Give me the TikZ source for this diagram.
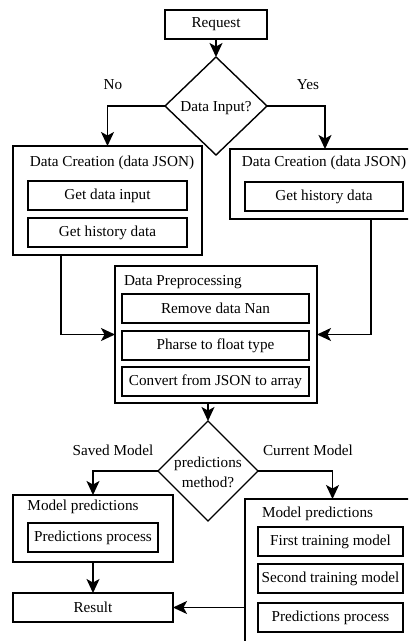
\documentclass[tikz,border=0pt]{standalone}
\usepackage{fontspec}
\setmainfont{Liberation Serif}
\usetikzlibrary{shapes.geometric,arrows.meta,calc}
\begin{document}
\begin{tikzpicture}[x=1pt,y=-1pt,
  font=\fontsize{15.2}{18}\selectfont,
  every node/.style={inner sep=0pt,outer sep=0pt},
  box/.style={draw,line width=1.4pt,rectangle},
  inner/.style={draw,line width=1.4pt,rectangle},
  decision/.style={draw,line width=1.4pt,diamond,aspect=1},
  lbl/.style={anchor=center},
  arr/.style={line width=1.4pt,-{Stealth[length=14pt,width=13pt,inset=3.5pt]}}]
\useasboundingbox (0,0) rectangle (408,641);
\clip (0,0) rectangle (408,641);

% start and first decision
\node[box,minimum width=102pt,minimum height=29pt] (req) at (216,24.5) {Request};
\node[decision,minimum width=102pt,minimum height=98pt] (d1) at (216,106) {};
\node[lbl] (d1t) at (216,108) {Data Input?};
\node[lbl] (no) at (113,85) {No};
\node[lbl] (yes) at (308,85) {Yes};

% data creation, left branch
\node[box,minimum width=189pt,minimum height=109pt] (cl) at (107.5,200.5) {};
\node[lbl] (clt) at (112,163) {Data Creation (data JSON)};
\node[inner,minimum width=159pt,minimum height=29pt] (cl1) at (107.5,195.5) {Get data input};
\node[inner,minimum width=159pt,minimum height=29pt] (cl2) at (107.5,232.5) {Get history data};

% data creation, right branch
\node[box,minimum width=190pt,minimum height=70pt] (cr) at (325,184) {};
\node[lbl] (crt) at (324,163) {Data Creation (data JSON)};
\node[inner,minimum width=158pt,minimum height=29pt] (cr1) at (324,196.5) {Get history data};

% preprocessing
\node[box,minimum width=202pt,minimum height=137pt] (pre) at (216,334.5) {};
\node[lbl,anchor=west] (pret) at (124,282) {Data Preprocessing};
\node[inner,minimum width=187pt,minimum height=29pt] (pre1) at (215.5,308.5) {Remove data Nan};
\node[inner,minimum width=187pt,minimum height=29pt] (pre2) at (215.5,345.5) {Pharse to float type};
\node[inner,minimum width=187pt,minimum height=29pt] (pre3) at (215.5,381.5) {Convert from JSON to array};

% second decision
\node[decision,minimum width=100pt,minimum height=100pt] (d2) at (208,471) {};
\node[lbl,align=center] (d2t) at (208,472) {predictions\\[2pt]method?};
\node[lbl] (sav) at (113,450) {Saved Model};
\node[lbl] (cur) at (308,450) {Current Model};

% saved model branch
\node[box,minimum width=160pt,minimum height=67pt] (ml) at (93,528.5) {};
\node[lbl] (mlt) at (83,507) {Model predictions};
\node[inner,minimum width=130pt,minimum height=29pt] (ml1) at (93,537.5) {Predictions process};
\node[box,minimum width=160pt,minimum height=29pt] (res) at (93,607.5) {Result};

% current model branch
\node[box,minimum width=175pt,minimum height=160pt] (mr) at (332.5,579) {};
\node[lbl,anchor=west] (mrt) at (262,514) {Model predictions};
\node[inner,minimum width=145pt,minimum height=29pt] (mr1) at (330.5,541.5) {First training model};
\node[inner,minimum width=145pt,minimum height=29pt] (mr2) at (330.5,578.5) {Second training model};
\node[inner,minimum width=145pt,minimum height=29pt] (mr3) at (330.5,617.5) {Predictions process};

% connectors
\draw[arr] (req.south) -- (d1.north);
\draw[arr] (d1.west) -| (cl.north);
\draw[arr] (d1.east) -| (cr.north);
\draw[arr] ([xshift=-46.5pt]cl.south) |- (pre.west);
\draw[arr] ([xshift=46pt]cr.south) |- (pre.east);
\draw[arr] (pre.south -| d2.north) -- (d2.north);
\draw[arr] (d2.west) -| (ml.north);
\draw[arr] (d2.east) -| (mr.north);
\draw[arr] (ml.south) -- (res.north);
\draw[arr] (res.east -| mr.west) -- (res.east);
\end{tikzpicture}
\end{document}
